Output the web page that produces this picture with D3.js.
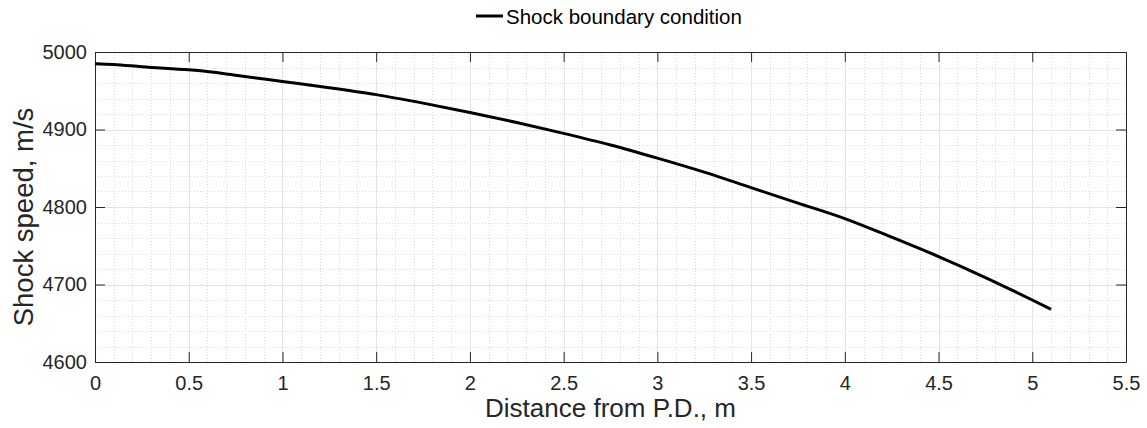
<!DOCTYPE html>
<html>
<head>
<meta charset="utf-8">
<script src="https://cdn.jsdelivr.net/npm/d3@7"></script>
<style>
  body { margin: 0; background: #fff; }
  svg { display: block; font-family: "Liberation Sans", Arial, sans-serif; }
</style>
</head>
<body>
<svg id="chart"></svg>
<script>
// distance from P.D. (m) and shock speed (m/s)
const distance = [0, 0.1, 0.25, 0.5, 0.55, 0.75, 1.0, 1.25, 1.5, 1.75, 2.0, 2.25, 2.5,
  2.75, 3.0, 3.25, 3.5, 3.75, 4.0, 4.25, 4.5, 4.75, 5.0, 5.1];
const speed = [4985, 4984, 4981, 4977, 4976, 4970, 4962, 4954, 4945, 4934, 4922, 4909, 4895,
  4880, 4863, 4845, 4825, 4805, 4785, 4761, 4736, 4709, 4680, 4668];
const xTicks = [0, 0.5, 1, 1.5, 2, 2.5, 3, 3.5, 4, 4.5, 5, 5.5];
const yTicks = [4600, 4700, 4800, 4900, 5000];
const seriesName = "Shock boundary condition";

const width = 1147, height = 428;
const margin = { top: 52, right: 21, bottom: 66, left: 95 };
const ink = "#262626";

const svg = d3.select("#chart")
    .attr("width", width)
    .attr("height", height);

svg.append("rect").attr("width", width).attr("height", height).attr("fill", "#fff");

const x = d3.scaleLinear().domain([0, 5.5]).range([margin.left, width - margin.right]);
const y = d3.scaleLinear().domain([4600, 5000]).range([height - margin.bottom, margin.top]);

const x0 = x.range()[0], x1 = x.range()[1];
const y0 = y.range()[0], y1 = y.range()[1];

// minor grid (dotted)
const minor = svg.append("g")
    .attr("stroke", "#dcdcdc")
    .attr("stroke-width", 1)
    .attr("stroke-dasharray", "1,2");
minor.selectAll("line.mx")
  .data(d3.range(1, 55).map(i => i / 10).filter(v => Math.round(v * 10) % 5 !== 0))
  .join("line")
    .attr("x1", d => Math.round(x(d)) + 0.5).attr("x2", d => Math.round(x(d)) + 0.5)
    .attr("y1", y1).attr("y2", y0);
minor.selectAll("line.my")
  .data(d3.range(4620, 5000, 20).filter(v => v % 100 !== 0))
  .join("line")
    .attr("y1", d => Math.round(y(d)) + 0.5).attr("y2", d => Math.round(y(d)) + 0.5)
    .attr("x1", x0).attr("x2", x1);

// major grid
const major = svg.append("g").attr("stroke", "#e3e3e3").attr("stroke-width", 1);
major.selectAll("line.gx")
  .data(xTicks.slice(1, -1))
  .join("line")
    .attr("x1", d => Math.round(x(d)) + 0.5).attr("x2", d => Math.round(x(d)) + 0.5)
    .attr("y1", y1).attr("y2", y0);
major.selectAll("line.gy")
  .data(yTicks.slice(1, -1))
  .join("line")
    .attr("y1", d => Math.round(y(d)) + 0.5).attr("y2", d => Math.round(y(d)) + 0.5)
    .attr("x1", x0).attr("x2", x1);

// axes, ticks pointing inward, box on
const styleAxis = g => {
  g.select(".domain").attr("stroke", ink);
  g.selectAll(".tick line").attr("stroke", ink);
  g.selectAll(".tick text").attr("fill", ink).attr("font-size", 20);
};

svg.append("g")
    .attr("transform", `translate(0,${y0})`)
    .call(d3.axisBottom(x).tickValues(xTicks).tickFormat(d3.format("~g"))
      .tickSizeInner(-10).tickSizeOuter(0).tickPadding(14))
    .call(styleAxis)
    .attr("font-family", null);

svg.append("g")
    .attr("transform", `translate(0,${y1})`)
    .call(d3.axisTop(x).tickValues(xTicks).tickFormat("")
      .tickSizeInner(-10).tickSizeOuter(0))
    .call(styleAxis);

svg.append("g")
    .attr("transform", `translate(${x0},0)`)
    .call(d3.axisLeft(y).tickValues(yTicks).tickFormat(d3.format("d"))
      .tickSizeInner(-10).tickSizeOuter(0).tickPadding(8))
    .call(styleAxis)
    .attr("font-family", null);

svg.append("g")
    .attr("transform", `translate(${x1},0)`)
    .call(d3.axisRight(y).tickValues(yTicks).tickFormat("")
      .tickSizeInner(-10).tickSizeOuter(0))
    .call(styleAxis);

// series
const pts = distance.map((d, i) => [d, speed[i]]);
svg.append("path")
    .datum(pts)
    .attr("fill", "none")
    .attr("stroke", "#000")
    .attr("stroke-width", 3)
    .attr("stroke-linejoin", "round")
    .attr("d", d3.line().x(d => x(d[0])).y(d => y(d[1])).curve(d3.curveMonotoneX));

// axis labels
svg.append("text")
    .attr("x", (x0 + x1) / 2)
    .attr("y", 417)
    .attr("text-anchor", "middle")
    .attr("font-size", 26)
    .attr("fill", ink)
    .text("Distance from P.D., m");

svg.append("text")
    .attr("transform", `translate(33,${(y0 + y1) / 2 + 10}) rotate(-90)`)
    .attr("text-anchor", "middle")
    .attr("font-size", 27.5)
    .attr("fill", ink)
    .text("Shock speed, m/s");

// legend
const legend = svg.append("g");
legend.append("line")
    .attr("x1", 476).attr("x2", 503)
    .attr("y1", 16).attr("y2", 16)
    .attr("stroke", "#000").attr("stroke-width", 3);
legend.append("text")
    .attr("x", 506).attr("y", 24)
    .attr("font-size", 20.5)
    .attr("fill", "#000")
    .text(seriesName);
</script>
</body>
</html>
